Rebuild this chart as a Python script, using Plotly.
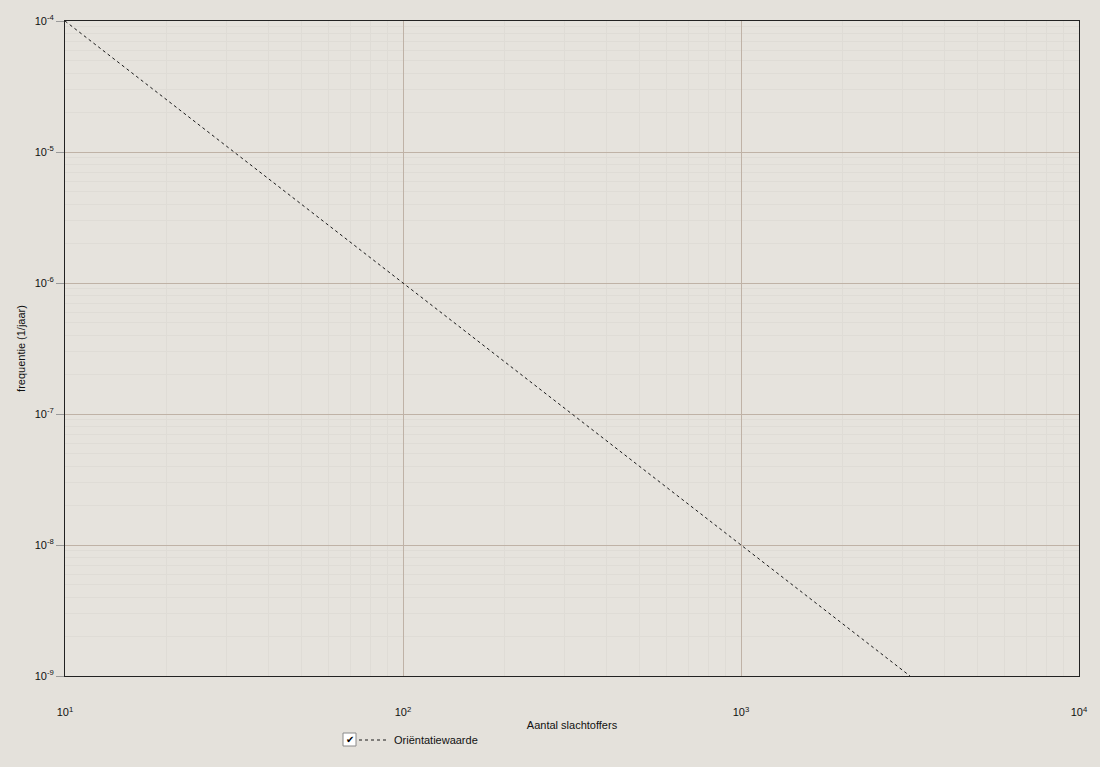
import plotly.graph_objects as go

# FN-curve: orientation value (frequency vs number of victims)
victims = [10, 100, 1000, 3162.28]
frequency = [1e-4, 1e-6, 1e-8, 1e-9]

x_tickvals = [10, 100, 1000, 10000]
x_ticktext = ["10<sup>1</sup>", "10<sup>2</sup>", "10<sup>3</sup>", "10<sup>4</sup>"]
y_tickvals = [1e-9, 1e-8, 1e-7, 1e-6, 1e-5, 1e-4]
y_ticktext = ["10<sup>-9</sup>", "10<sup>-8</sup>", "10<sup>-7</sup>",
              "10<sup>-6</sup>", "10<sup>-5</sup>", "10<sup>-4</sup>"]

# minor grid at 2..9 within each decade
mantissas = [2, 3, 4, 5, 6, 7, 8, 9]
x_minor = [m * d for d in [10, 100, 1000] for m in mantissas]
y_minor = [m * d for d in [1e-9, 1e-8, 1e-7, 1e-6, 1e-5] for m in mantissas]

BG = "#E4E1DB"
MAJOR = "#BFB2A6"
MINOR = "#DFDCD6"
FONT = "Liberation Sans, Arial, sans-serif"

W, H = 1100, 767
L, R, T, B = 65, 21, 21, 91
PW, PH = W - L - R, H - T - B


def px(x):
    return (x - L) / PW


def py(y):
    return (H - B - y) / PH


fig = go.Figure()
fig.add_trace(go.Scatter(
    x=victims, y=frequency, mode="lines", name="Oriëntatiewaarde",
    line=dict(color="#1a1a1a", width=1, dash="3px,3px"),
))

axis_common = dict(
    type="log", showline=True, linecolor="#222222", linewidth=1, mirror=True,
    gridcolor=MAJOR, gridwidth=1, zeroline=False,
    tickfont=dict(family=FONT, size=11, color="#111111"),
)

fig.update_layout(
    width=W, height=H,
    margin=dict(l=L, r=R, t=T, b=B),
    paper_bgcolor=BG, plot_bgcolor="#E6E3DD",
    font=dict(family=FONT, size=11, color="#111111"),
    showlegend=True,
    legend=dict(x=px(354), y=py(740), xanchor="left", yanchor="middle",
                bgcolor="rgba(0,0,0,0)", borderwidth=0,
                font=dict(family=FONT, size=11, color="#111111"),
                itemwidth=30),
    xaxis=dict(axis_common, range=[1, 4], tickvals=x_tickvals, ticktext=x_ticktext,
               ticks="", ticklabelstandoff=26,
               minor=dict(tickvals=x_minor, showgrid=True, gridcolor=MINOR,
                          gridwidth=1, ticks=""),
               title=dict(text="Aantal slachtoffers", standoff=4,
                          font=dict(family=FONT, size=11, color="#111111"))),
    yaxis=dict(axis_common, range=[-9, -4], tickvals=y_tickvals, ticktext=y_ticktext,
               ticks="outside", ticklen=8, tickcolor="#9a9a9a",
               minor=dict(tickvals=y_minor, showgrid=True, gridcolor=MINOR,
                          gridwidth=1, ticks=""),
               title=dict(text="frequentie (1/jaar)", standoff=6,
                          font=dict(family=FONT, size=11, color="#111111"))),
)

# legend check box
fig.add_shape(type="rect", xref="paper", yref="paper",
              x0=px(343), x1=px(356), y0=py(746), y1=py(733),
              line=dict(color="#8a8a8a", width=1), fillcolor="#ffffff")
fig.add_annotation(xref="paper", yref="paper", x=px(349.5), y=py(739.5),
                   text="✔", showarrow=False, xanchor="center", yanchor="middle",
                   font=dict(family="DejaVu Sans", size=10, color="#000000"))

fig.write_html("out.html")
